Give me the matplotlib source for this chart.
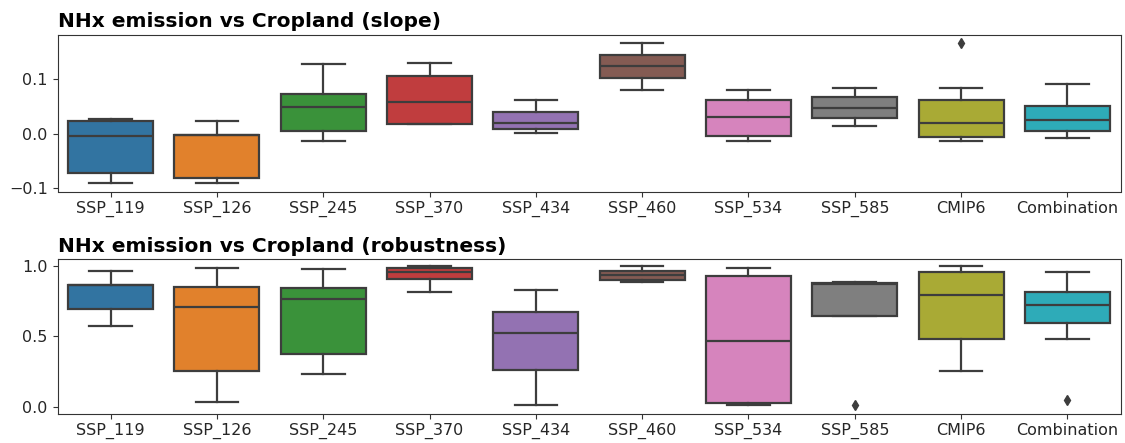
import colorsys
import matplotlib
matplotlib.use("Agg")
import matplotlib.pyplot as plt
import matplotlib.colors as mcolors

categories = ["SSP_119", "SSP_126", "SSP_245", "SSP_370", "SSP_434",
              "SSP_460", "SSP_534", "SSP_585", "CMIP6", "Combination"]

# slope panel statistics
slope_whislo = [-0.091, -0.091, -0.014, 0.017, 0.002, 0.080, -0.013, 0.014, -0.013, -0.007]
slope_q1     = [-0.072, -0.082, 0.005, 0.017, 0.009, 0.102, -0.004, 0.029, -0.006, 0.005]
slope_med    = [-0.005, -0.003, 0.049, 0.058, 0.020, 0.124, 0.030, 0.048, 0.019, 0.026]
slope_q3     = [0.023, -0.003, 0.072, 0.105, 0.040, 0.145, 0.061, 0.068, 0.062, 0.050]
slope_whishi = [0.027, 0.023, 0.128, 0.130, 0.061, 0.167, 0.080, 0.084, 0.084, 0.092]
slope_fliers = [[], [], [], [], [], [], [], [], [0.166], []]

# robustness panel statistics
rob_whislo = [0.574, 0.038, 0.236, 0.818, 0.014, 0.882, 0.012, 0.643, 0.253, 0.480]
rob_q1     = [0.693, 0.251, 0.378, 0.910, 0.260, 0.901, 0.024, 0.643, 0.480, 0.596]
rob_med    = [0.862, 0.709, 0.768, 0.953, 0.522, 0.936, 0.466, 0.872, 0.794, 0.723]
rob_q3     = [0.865, 0.849, 0.844, 0.986, 0.674, 0.965, 0.929, 0.875, 0.957, 0.811]
rob_whishi = [0.962, 0.986, 0.976, 1.000, 0.832, 0.998, 0.986, 0.887, 0.998, 0.953]
rob_fliers = [[], [], [], [], [], [], [], [0.014], [], [0.047]]

titles = ["NHx emission vs Cropland (slope)", "NHx emission vs Cropland (robustness)"]


def desat(c, prop=0.75):
    r, g, b = mcolors.to_rgb(c)
    h, l, s = colorsys.rgb_to_hls(r, g, b)
    return colorsys.hls_to_rgb(h, l, s * prop)


palette = [desat(c) for c in plt.rcParams["axes.prop_cycle"].by_key()["color"]]
line_gray = (0.24, 0.24, 0.24)


def make_stats(lo, q1, med, q3, hi, fl):
    return [dict(whislo=a, q1=b, med=c, q3=d, whishi=e, fliers=f, label=lab)
            for a, b, c, d, e, f, lab in zip(lo, q1, med, q3, hi, fl, categories)]


fig = plt.figure(figsize=(11.25, 4.43), dpi=100)
ax1 = fig.add_axes([57.5 / 1125, 1 - 191.5 / 443, 1063 / 1125, 156.5 / 443])
ax2 = fig.add_axes([57.5 / 1125, 1 - 413.5 / 443, 1063 / 1125, 155 / 443])

panels = [
    (ax1, make_stats(slope_whislo, slope_q1, slope_med, slope_q3, slope_whishi, slope_fliers),
     [-0.1, 0.0, 0.1], (-0.106, 0.181), 6),
    (ax2, make_stats(rob_whislo, rob_q1, rob_med, rob_q3, rob_whishi, rob_fliers),
     [0.0, 0.5, 1.0], (-0.047, 1.052), 5),
]

for (ax, stats, yt, ylim, pad), title in zip(panels, titles):
    bp = ax.bxp(stats, positions=range(len(categories)), widths=0.8,
                patch_artist=True,
                boxprops=dict(edgecolor=line_gray, linewidth=1.6),
                medianprops=dict(color=line_gray, linewidth=1.6),
                whiskerprops=dict(color=line_gray, linewidth=1.6),
                capprops=dict(color=line_gray, linewidth=1.6),
                flierprops=dict(marker="d", markerfacecolor=line_gray,
                                markeredgecolor=line_gray, markersize=5.5))
    for patch, col in zip(bp["boxes"], palette):
        patch.set_facecolor(col)
    ax.set_xlim(-0.5, len(categories) - 0.5)
    ax.set_ylim(*ylim)
    ax.set_yticks(yt)
    ax.set_xticks(range(len(categories)))
    ax.set_xticklabels(categories)
    ax.tick_params(labelsize=11.5, colors="#333333", labelcolor="#262626")
    for s in ax.spines.values():
        s.set_color("#333333")
    ax.set_title(title, loc="left", fontweight="bold", fontsize=14.5, pad=pad)

fig.savefig("out.png", dpi=100)
